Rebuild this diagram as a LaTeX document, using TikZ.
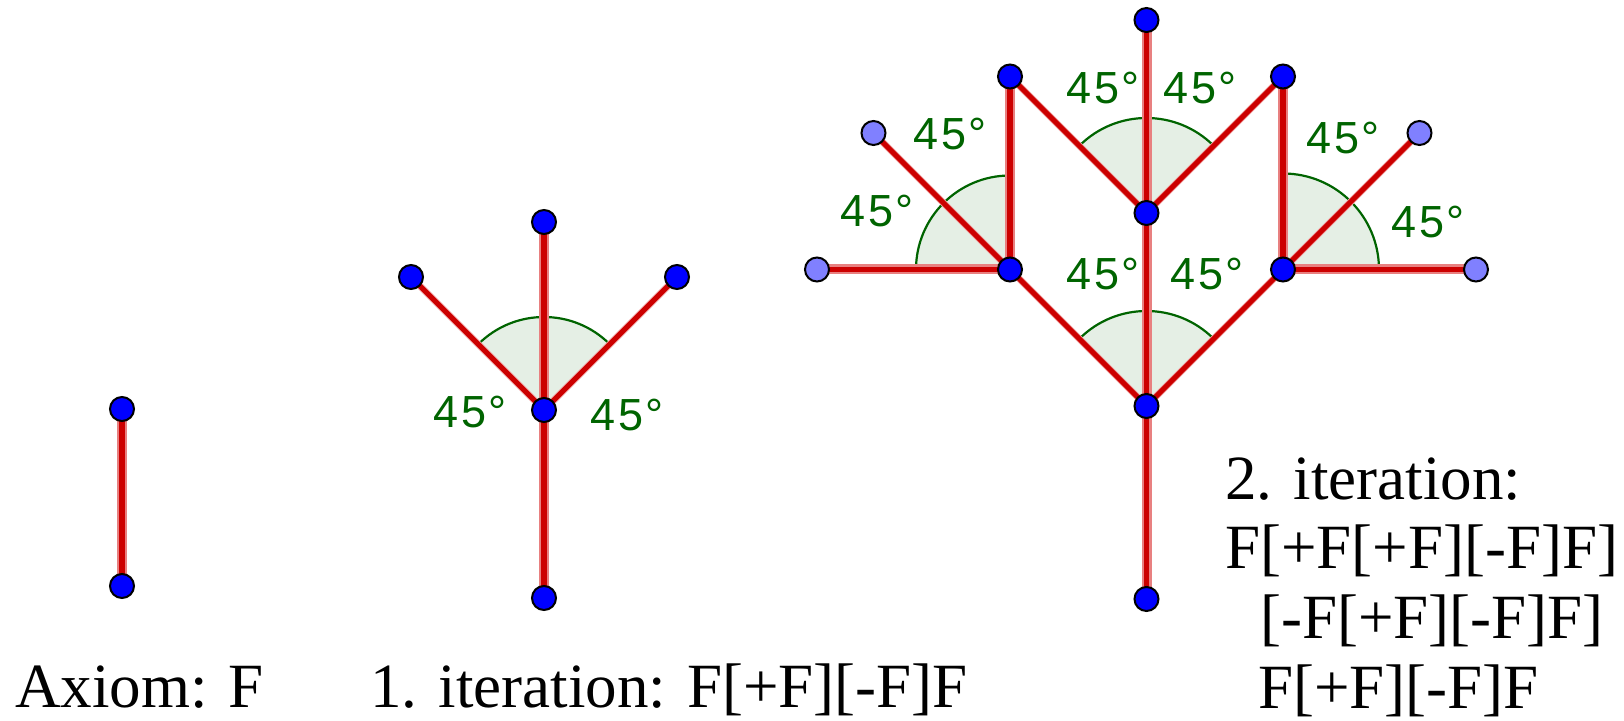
\documentclass[tikz,border=0pt]{standalone}
\usepackage{fontspec}
\setmainfont{Liberation Serif}
\newfontfamily\labfont[LetterSpace=6]{Liberation Sans}
\definecolor{segred}{RGB}{204,0,0}
\definecolor{segHalo}{RGB}{232,128,128}
\definecolor{diagHalo}{RGB}{240,170,170}
\definecolor{dotblue}{RGB}{0,0,255}
\definecolor{dotlight}{RGB}{128,128,255}
\definecolor{anggreen}{RGB}{0,100,0}
\definecolor{angfill}{RGB}{229,239,229}
\begin{document}
\begin{tikzpicture}[x=0.5pt,y=-0.5pt,
  seg/.style={draw=segred,line width=2.6pt},
  halo/.style={draw=segHalo,line width=5pt},
  dhalo/.style={draw=diagHalo,line width=3.4pt},
  dot/.style={circle,draw=black,line width=1pt,fill=dotblue,inner sep=0pt,minimum size=12pt},
  ldot/.style={dot,fill=dotlight},
  sector/.style={fill=angfill},
  angarc/.style={draw=anggreen,line width=1.1pt},
  anglab/.style={font=\labfont\fontsize{22.5}{24}\selectfont,text=anggreen,anchor=base west,inner sep=0pt},
  caption/.style={font=\fontsize{31.5}{35}\selectfont,anchor=base west,inner sep=0pt}]
\useasboundingbox (0,0) rectangle (1624,721);

% ---------- coordinates ----------
% axiom
\coordinate (a0) at (122,409);
\coordinate (a1) at (122,586);
% iteration 1
\coordinate (b0) at (544,598);
\coordinate (bc) at (544,410);
\coordinate (bt) at (544,222);
\coordinate (bl) at (411,277);
\coordinate (br) at (677,277);
% iteration 2
\coordinate (c0) at (1146.5,599);
\coordinate (cc) at (1146.5,406);
\coordinate (cL) at (1010,269.5);
\coordinate (cR) at (1283,269.5);
\coordinate (cU) at (1146.5,213);
\coordinate (cT) at (1146.5,20);
\coordinate (cQ) at (1010,76.5);
\coordinate (cP) at (1283,76.5);
\coordinate (cLL) at (817,269.5);
\coordinate (cLD) at (873.5,133);
\coordinate (cRR) at (1476,269.5);
\coordinate (cRD) at (1419.5,133);

% ---------- angle sectors ----------
\fill[sector] (bc) -- ([shift={(-45:93)}]bc) arc[start angle=-45,end angle=-135,radius=93] -- cycle;
\draw[angarc] ([shift={(-45:93)}]bc) arc[start angle=-45,end angle=-135,radius=93];
\fill[sector] (cc) -- ([shift={(-45:95)}]cc) arc[start angle=-45,end angle=-135,radius=95] -- cycle;
\draw[angarc] ([shift={(-45:95)}]cc) arc[start angle=-45,end angle=-135,radius=95];
\fill[sector] (cU) -- ([shift={(-45:95)}]cU) arc[start angle=-45,end angle=-135,radius=95] -- cycle;
\draw[angarc] ([shift={(-45:95)}]cU) arc[start angle=-45,end angle=-135,radius=95];
\fill[sector] (cL) -- ([shift={(-90:94)}]cL) arc[start angle=-90,end angle=-180,radius=94] -- cycle;
\draw[angarc] ([shift={(-90:94)}]cL) arc[start angle=-90,end angle=-180,radius=94];
\fill[sector] (cR) -- ([shift={(0:96)}]cR) arc[start angle=0,end angle=-90,radius=96] -- cycle;
\draw[angarc] ([shift={(0:96)}]cR) arc[start angle=0,end angle=-90,radius=96];

% ---------- halos ----------
\draw[halo] (a0) -- (a1);
\draw[halo] (b0) -- (bc);
\draw[halo] (bc) -- (bt);
\draw[halo] (c0) -- (cc);
\draw[halo] (cc) -- (cU);
\draw[halo] (cU) -- (cT);
\draw[halo] (cL) -- (cQ);
\draw[halo] (cR) -- (cP);
\draw[halo] (cL) -- (cLL);
\draw[halo] (cR) -- (cRR);
\draw[dhalo] (bc) -- (bl);
\draw[dhalo] (bc) -- (br);
\draw[dhalo] (cc) -- (cL);
\draw[dhalo] (cc) -- (cR);
\draw[dhalo] (cU) -- (cQ);
\draw[dhalo] (cU) -- (cP);
\draw[dhalo] (cL) -- (cLD);
\draw[dhalo] (cR) -- (cRD);

% ---------- segments ----------
\draw[seg] (a0) -- (a1);
\draw[seg] (b0) -- (bc);
\draw[seg] (bc) -- (bt);
\draw[seg] (bc) -- (bl);
\draw[seg] (bc) -- (br);
\draw[seg] (c0) -- (cc);
\draw[seg] (cc) -- (cU);
\draw[seg] (cU) -- (cT);
\draw[seg] (cc) -- (cL);
\draw[seg] (cc) -- (cR);
\draw[seg] (cU) -- (cQ);
\draw[seg] (cU) -- (cP);
\draw[seg] (cL) -- (cQ);
\draw[seg] (cR) -- (cP);
\draw[seg] (cL) -- (cLL);
\draw[seg] (cL) -- (cLD);
\draw[seg] (cR) -- (cRR);
\draw[seg] (cR) -- (cRD);

% ---------- points ----------
\foreach \p in {a0,a1,b0,bc,bt,bl,br,c0,cc,cL,cR,cU,cT,cQ,cP}
  \node[dot] (d\p) at (\p) {};
\foreach \p in {cLL,cLD,cRR,cRD}
  \node[ldot] (d\p) at (\p) {};

% ---------- angle labels ----------
\node[anglab] (l1) at (433,428) {45°};
\node[anglab] (l2) at (590,431) {45°};
\node[anglab] (l3) at (1066,104) {45°};
\node[anglab] (l4) at (1163,104) {45°};
\node[anglab] (l5) at (1066,290) {45°};
\node[anglab] (l6) at (1170,290) {45°};
\node[anglab] (l7) at (913,150) {45°};
\node[anglab] (l8) at (840,227) {45°};
\node[anglab] (l9) at (1306,154) {45°};
\node[anglab] (l10) at (1391,238) {45°};

% ---------- captions ----------
\node[caption] (t0) at (15,708) {Axiom: F};
\node[caption] (t1) at (370,707) {1. iteration: F[+F][-F]F};
\node[caption] (t2) at (1225,500) {2. iteration:};
\node[caption] (t3) at (1225,569) {F[+F[+F][-F]F]};
\node[caption] (t4) at (1260,639) {[-F[+F][-F]F]};
\node[caption] (t5) at (1258,709) {F[+F][-F]F};
\end{tikzpicture}
\end{document}
